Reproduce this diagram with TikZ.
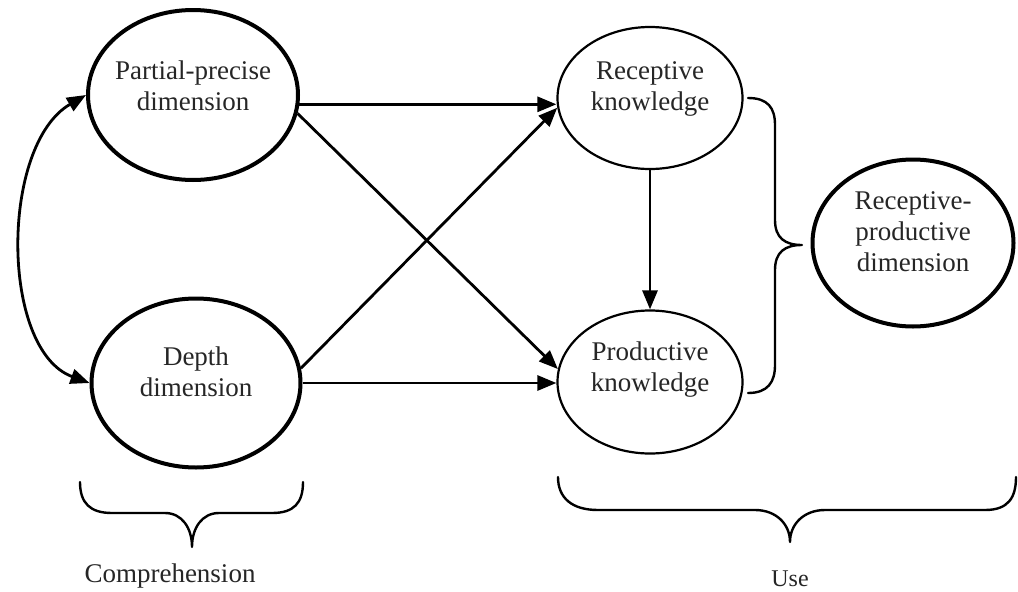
\documentclass[tikz,border=0pt]{standalone}
\usepackage{fontspec}
\setmainfont{Liberation Serif}
\usetikzlibrary{shapes.geometric,arrows.meta}
\begin{document}
\begin{tikzpicture}[x=1pt,y=-1pt,
  thickell/.style={ellipse,draw,line width=4pt,inner sep=0pt},
  thinell/.style={ellipse,draw,line width=2.2pt,inner sep=0pt},
  lbl/.style={font=\fontsize{27}{31}\selectfont,align=center,text=black!85},
  conn/.style={line width=2.8pt,-{Triangle[length=19pt,width=15pt]}},
  dconn/.style={line width=2.8pt,{Triangle[length=19pt,width=15pt]}-{Triangle[length=19pt,width=15pt]}},
  bracestyle/.style={line width=2.4pt,line cap=round,line join=round}]
\useasboundingbox (0,0) rectangle (1018,592);

\node[thickell,minimum width=210pt,minimum height=170pt,
  label={[lbl,yshift=9pt]center:Partial-precise\\dimension}] (pp) at (193,95) {};
\node[thickell,minimum width=209pt,minimum height=169pt,
  label={[lbl,yshift=11pt]center:Depth\\dimension}] (dd) at (196,383) {};
\node[thinell,minimum width=185pt,minimum height=142pt,
  label={[lbl,yshift=9pt]center:Receptive\\knowledge}] (rk) at (650,98) {};
\node[thinell,minimum width=185pt,minimum height=143pt,
  label={[lbl,yshift=12pt]center:Productive\\knowledge}] (pk) at (650,382) {};
\node[thickell,minimum width=201pt,minimum height=167pt,
  label={[lbl,yshift=11pt]center:Receptive-\\productive\\dimension}] (rp) at (913,243) {};

% connectors
\draw[dconn] (pp.west) .. controls (0,145) and (0,350) .. (dd.west);
\draw[conn] (pp.-5) -- (pp.-5 -| rk.west);
\draw[conn] (dd.east) -- (dd.east -| pk.west);
\draw[conn] (pp.-10) -- (pk.172);
\draw[conn] (dd.8) -- (rk.186);
\draw[conn] (rk.south) -- (pk.north);

% right brace
\coordinate (rbtip) at (802,245);
\draw[bracestyle] (748,98) .. controls (768,98) and (775,108) .. (775,125)
  -- (775,220) .. controls (775,238) and (785,245) .. (rbtip)
  .. controls (785,245) and (775,252) .. (775,270)
  -- (775,365) .. controls (775,382) and (768,393) .. (748,393);

% comprehension brace
\coordinate (cbtip) at (192,547);
\draw[bracestyle] (80,482) .. controls (80,503) and (90,513) .. (112,513)
  -- (165,513) .. controls (182,513) and (192,528) .. (cbtip)
  .. controls (192,528) and (202,513) .. (219,513)
  -- (272,513) .. controls (294,513) and (303,503) .. (303,482);
\node[lbl] (comp) at (170,576) {Comprehension};

% use brace
\coordinate (ubtip) at (790,542);
\draw[bracestyle] (558,477) .. controls (558,498) and (572,510) .. (598,510)
  -- (755,510) .. controls (776,510) and (790,524) .. (ubtip)
  .. controls (790,524) and (804,510) .. (825,510)
  -- (985,510) .. controls (1008,510) and (1016,498) .. (1016,477);
\node[lbl,font=\fontsize{24}{28}\selectfont] (use) at (790,579) {Use};
\end{tikzpicture}
\end{document}
